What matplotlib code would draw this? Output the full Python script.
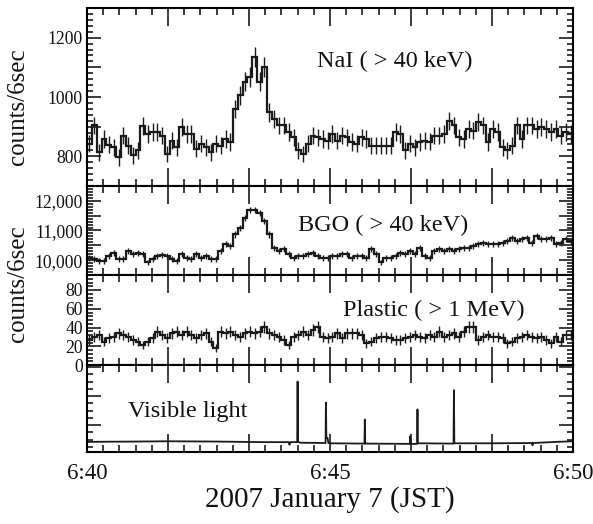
import numpy as np
import matplotlib
matplotlib.use("Agg")
import matplotlib.pyplot as plt
from matplotlib.ticker import MultipleLocator, FuncFormatter, NullFormatter

plt.rcParams['font.family'] = ['Liberation Serif', 'DejaVu Serif']

# ---------------- data ----------------
bin_width_s = 6  # seconds per bin, start 6:40:00

nai_counts = [
    842, 904, 814, 859, 839, 831, 797, 870, 836, 803,
    820, 901, 876, 881, 881, 870, 808, 853, 831, 898,
    876, 876, 825, 842, 831, 814, 842, 836, 859, 848,
    960, 1006, 1051, 1067, 1135, 1051, 1101, 948, 926, 904,
    904, 881, 864, 820, 808, 842, 870, 864, 859, 853,
    876, 853, 870, 864, 848, 842, 864, 859, 836, 836,
    836, 836, 836, 881, 876, 820, 842, 831, 848, 853,
    850, 870, 870, 876, 920, 904, 864, 859, 892, 887,
    915, 904, 848, 892, 881, 831, 820, 836, 904, 859,
    904, 904, 892, 898, 892, 881, 892, 870, 881, 875,
]

bgo_counts = [
    10089, 10033, 9978, 9978, 10144, 10255, 10033, 10033, 10311, 10200,
    10255, 10200, 9922, 10033, 10144, 10178, 10144, 10033, 9978, 10200,
    10089, 10033, 10200, 10089, 10144, 10033, 10033, 10311, 10533, 10477,
    10866, 11088, 11421, 11700, 11700, 11590, 11310, 10866, 10422, 10311,
    10366, 10200, 10089, 10144, 10144, 10200, 10255, 10144, 10089, 10089,
    10144, 10144, 10200, 10200, 10089, 10144, 10144, 10089, 10366, 10200,
    9922, 10089, 10089, 10144, 10255, 10200, 10311, 10200, 10422, 10144,
    10089, 10311, 10366, 10311, 10366, 10311, 10366, 10422, 10422, 10477,
    10533, 10588, 10533, 10533, 10533, 10588, 10644, 10755, 10644, 10700,
    10755, 10588, 10810, 10700, 10700, 10755, 10533, 10588, 10700, 10644,
]

plastic_counts = [
    26.7, 30.2, 32.0, 24.9, 28.4, 30.2, 33.8, 32.0, 30.2, 26.7,
    24.9, 21.3, 24.9, 28.4, 35.6, 32.0, 28.4, 33.8, 35.6, 32.0,
    35.6, 32.0, 28.4, 32.0, 33.8, 24.9, 17.8, 35.6, 33.8, 35.6,
    32.0, 30.2, 33.9, 35.6, 33.9, 35.6, 40.9, 33.9, 32.0, 30.2,
    26.7, 21.3, 30.2, 32.0, 35.6, 32.0, 37.3, 40.9, 30.2, 28.4,
    30.2, 33.9, 28.4, 33.9, 33.9, 33.9, 32.0, 23.1, 24.9, 28.4,
    30.2, 30.2, 28.4, 26.7, 26.7, 28.4, 30.2, 32.0, 30.2, 28.4,
    32.0, 30.2, 35.6, 30.2, 32.0, 33.9, 30.2, 35.6, 40.9, 40.9,
    26.7, 30.2, 32.0, 30.2, 30.2, 28.4, 23.1, 24.9, 28.4, 30.2,
    32.0, 30.2, 28.4, 30.2, 26.7, 23.1, 30.2, 24.9, 32.0, 32.0,
]

light_time_s = [0, 60, 100, 160, 220, 249, 250, 251, 259.5, 260, 260.5, 263,
                294.5, 295, 295.5, 297, 298, 300, 342.5, 343, 343.5, 398.5, 399,
                399.5, 407.5, 408, 408.5, 452.5, 453, 453.5, 500, 549.5, 550,
                550.5, 580, 600]
light_level = [0.42, 0.43, 0.44, 0.43, 0.41, 0.41, 0.32, 0.41, 0.41, 2.50, 0.43,
               0.39, 0.38, 1.77, 0.58, 0.55, 0.38, 0.37, 0.36, 1.19, 0.36, 0.35,
               0.61, 0.35, 0.35, 1.54, 0.37, 0.36, 2.20, 0.37, 0.37, 0.38, 0.30,
               0.38, 0.42, 0.44]

time_tick_labels = ["6:40", "6:45", "6:50"]
panel_labels = ["NaI ( > 40 keV)", "BGO ( > 40 keV)",
                "Plastic ( > 1 MeV)", "Visible light"]
y_label = "counts/6sec"
x_label = "2007 January 7 (JST)"

# ---------------- figure ----------------
W, H = 593, 524
fig = plt.figure(figsize=(W / 100, H / 100), dpi=100)

left, right = 87 / W, 573 / W
bounds_px = [(8, 186), (186, 275), (275, 365), (365, 452)]
axes = []
for i, (top, bot) in enumerate(bounds_px):
    ax = fig.add_axes([left, 1 - bot / H, right - left, (bot - top) / H],
                      sharex=axes[0] if axes else None)
    axes.append(ax)

ax_nai, ax_bgo, ax_pl, ax_vis = axes
line_c = '#1a1a1a'


def draw_hist(ax, vals):
    vals = np.asarray(vals, dtype=float)
    edges = np.arange(len(vals) + 1) * bin_width_s
    centers = 0.5 * (edges[:-1] + edges[1:])
    ax.errorbar(centers, vals, yerr=np.sqrt(vals), fmt='none',
                ecolor=line_c, elinewidth=1.0)
    ax.stairs(vals, edges, color=line_c, lw=1.6, baseline=None)


draw_hist(ax_nai, nai_counts)
draw_hist(ax_bgo, bgo_counts)
draw_hist(ax_pl, plastic_counts)
ax_vis.plot(light_time_s, light_level, color=line_c, lw=1.3)

ax_nai.set_ylim(700, 1300)
ax_bgo.set_ylim(9500, 12500)
ax_pl.set_ylim(0, 96)
ax_vis.set_ylim(0.07, 3.07)
ax_vis.set_xlim(0, 600)

ax_nai.yaxis.set_major_locator(MultipleLocator(100))
ax_nai.yaxis.set_minor_locator(MultipleLocator(20))
ax_nai.yaxis.set_major_formatter(
    FuncFormatter(lambda v, p: f"{v:.0f}" if round(v) % 200 == 0 else ""))

ax_bgo.yaxis.set_major_locator(MultipleLocator(500))
ax_bgo.yaxis.set_minor_locator(MultipleLocator(100))
ax_bgo.yaxis.set_major_formatter(
    FuncFormatter(lambda v, p: f"{v:,.0f}" if round(v) % 1000 == 0 else ""))

ax_pl.yaxis.set_major_locator(MultipleLocator(20))
ax_pl.yaxis.set_minor_locator(MultipleLocator(4))

ax_vis.yaxis.set_major_locator(MultipleLocator(1))
ax_vis.yaxis.set_minor_locator(MultipleLocator(0.25))
ax_vis.yaxis.set_major_formatter(NullFormatter())

tick_label_map = {int(t): s for t, s in zip(np.arange(0, 601, 300), time_tick_labels)}
for ax in axes:
    ax.xaxis.set_major_locator(MultipleLocator(100))
    ax.xaxis.set_minor_locator(MultipleLocator(20))
    for s in ax.spines.values():
        s.set_linewidth(1.5)
    ax.tick_params(axis='both', which='both', direction='in', top=True,
                   right=True, width=1.2, colors=line_c)
    ax.tick_params(axis='x', which='major', length=13)
    ax.tick_params(axis='x', which='minor', length=5)
    ax.tick_params(axis='y', which='major', length=10, labelsize=12.7, pad=3)
    ax.tick_params(axis='y', which='minor', length=4.5)
    ax.tick_params(axis='y', labelcolor='#111')
    if ax is not ax_vis:
        ax.tick_params(axis='x', labelbottom=False)

ax_vis.xaxis.set_major_formatter(
    FuncFormatter(lambda t, p: tick_label_map.get(int(round(t)), "")))
ax_vis.tick_params(axis='x', labelsize=16.5, pad=8, labelcolor='#111')
ax_vis.set_xlabel(x_label, fontsize=21, color='#111', labelpad=1.5)

text_kw = dict(fontsize=17.5, color='#111', va='center', ha='left')
ax_nai.text(0.473, 0.697, panel_labels[0], transform=ax_nai.transAxes, **text_kw)
ax_bgo.text(0.435, 0.56, panel_labels[1], transform=ax_bgo.transAxes, **text_kw)
ax_pl.text(0.527, 0.61, panel_labels[2], transform=ax_pl.transAxes, **text_kw)
ax_vis.text(0.084, 0.46, panel_labels[3], transform=ax_vis.transAxes, **text_kw)

fig.text(18 / W, 1 - 107 / H, y_label, rotation=90, fontsize=18,
         va='center', ha='center', color='#111')
fig.text(18 / W, 1 - 284 / H, y_label, rotation=90, fontsize=18,
         va='center', ha='center', color='#111')

fig.savefig("out.png", dpi=100)
